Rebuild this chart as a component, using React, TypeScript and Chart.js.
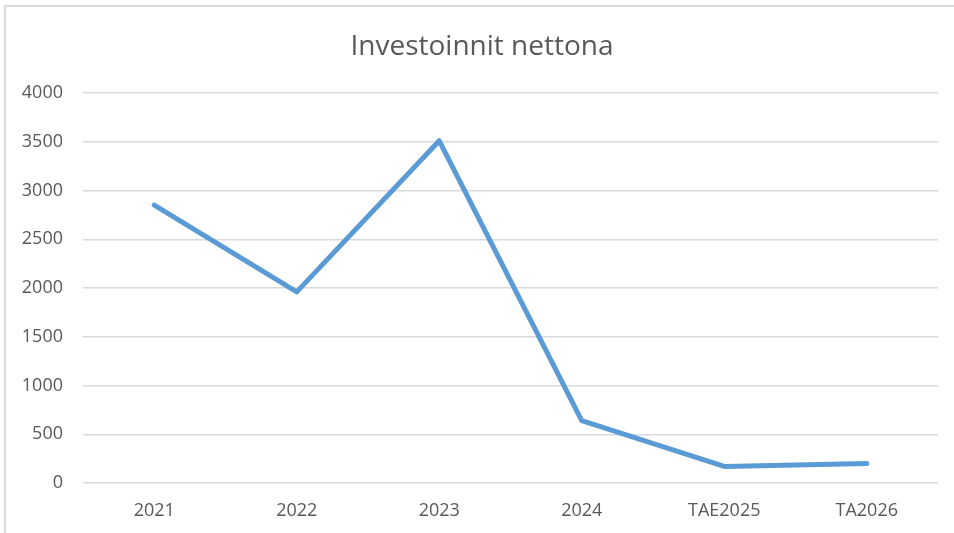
import React, { useEffect, useRef } from "react";
import { Chart, registerables } from "chart.js";

Chart.register(...registerables);

const categories = ["2021", "2022", "2023", "2024", "TAE2025", "TA2026"];
const values = [2850, 1960, 3510, 640, 170, 200];
const yTicks = [0, 500, 1000, 1500, 2000, 2500, 3000, 3500, 4000];
const title = "Investoinnit nettona";

const titlePlugin = {
  id: "customTitle",
  afterDraw(chart: any) {
    const ctx = chart.ctx;
    ctx.save();
    ctx.fillStyle = "#595959";
    ctx.font = "normal 28px 'Open Sans'";
    ctx.textAlign = "center";
    ctx.textBaseline = "middle";
    ctx.fillText(title, 482, 47);
    ctx.restore();
  },
};

export default function App() {
  const ref = useRef<HTMLCanvasElement | null>(null);

  useEffect(() => {
    if (!ref.current) return;
    const chart = new Chart(ref.current, {
      type: "line",
      data: {
        labels: categories,
        datasets: [
          {
            data: values,
            borderColor: "#5B9BD5",
            backgroundColor: "#5B9BD5",
            borderWidth: 5,
            pointRadius: 0,
            tension: 0,
            borderJoinStyle: "round",
            borderCapStyle: "round",
          },
        ],
      },
      plugins: [titlePlugin],
      options: {
        responsive: false,
        animation: false,
        layout: { padding: { left: 0, right: 16, top: 93, bottom: 0 } },
        plugins: {
          legend: { display: false },
          tooltip: { enabled: false },
          title: { display: false },
        },
        scales: {
          x: {
            offset: true,
            grid: { display: false, drawTicks: false },
            border: { display: false },
            ticks: {
              color: "#595959",
              font: { family: "'Open Sans'", size: 18 },
              padding: 17,
              maxRotation: 0,
            },
            afterFit: (scale: any) => {
              scale.height = 50;
            },
          },
          y: {
            min: 0,
            max: 4000,
            afterBuildTicks: (scale: any) => {
              scale.ticks = yTicks.map((v) => ({ value: v }));
            },
            grid: { color: "#d9d9d9", lineWidth: 1.5, drawTicks: false },
            border: { display: false },
            ticks: {
              color: "#595959",
              font: { family: "'Open Sans'", size: 18 },
              padding: 20,
              callback: (v: any) => String(v),
            },
            afterFit: (scale: any) => {
              scale.width = 83;
            },
          },
        },
      },
    });
    return () => chart.destroy();
  }, []);

  return (
    <div
      style={{
        position: "fixed",
        left: 0,
        top: 0,
        width: 954,
        height: 533,
        overflow: "hidden",
        background: "#fff",
      }}
    >
      <div
        style={{
          position: "absolute",
          left: 4,
          top: 5,
          width: 1000,
          height: 600,
          border: "2px solid #d9d9d9",
          boxSizing: "border-box",
        }}
      />
      <canvas
        ref={ref}
        width={954}
        height={533}
        style={{ position: "absolute", left: 0, top: 0, width: 954, height: 533 }}
      />
    </div>
  );
}
